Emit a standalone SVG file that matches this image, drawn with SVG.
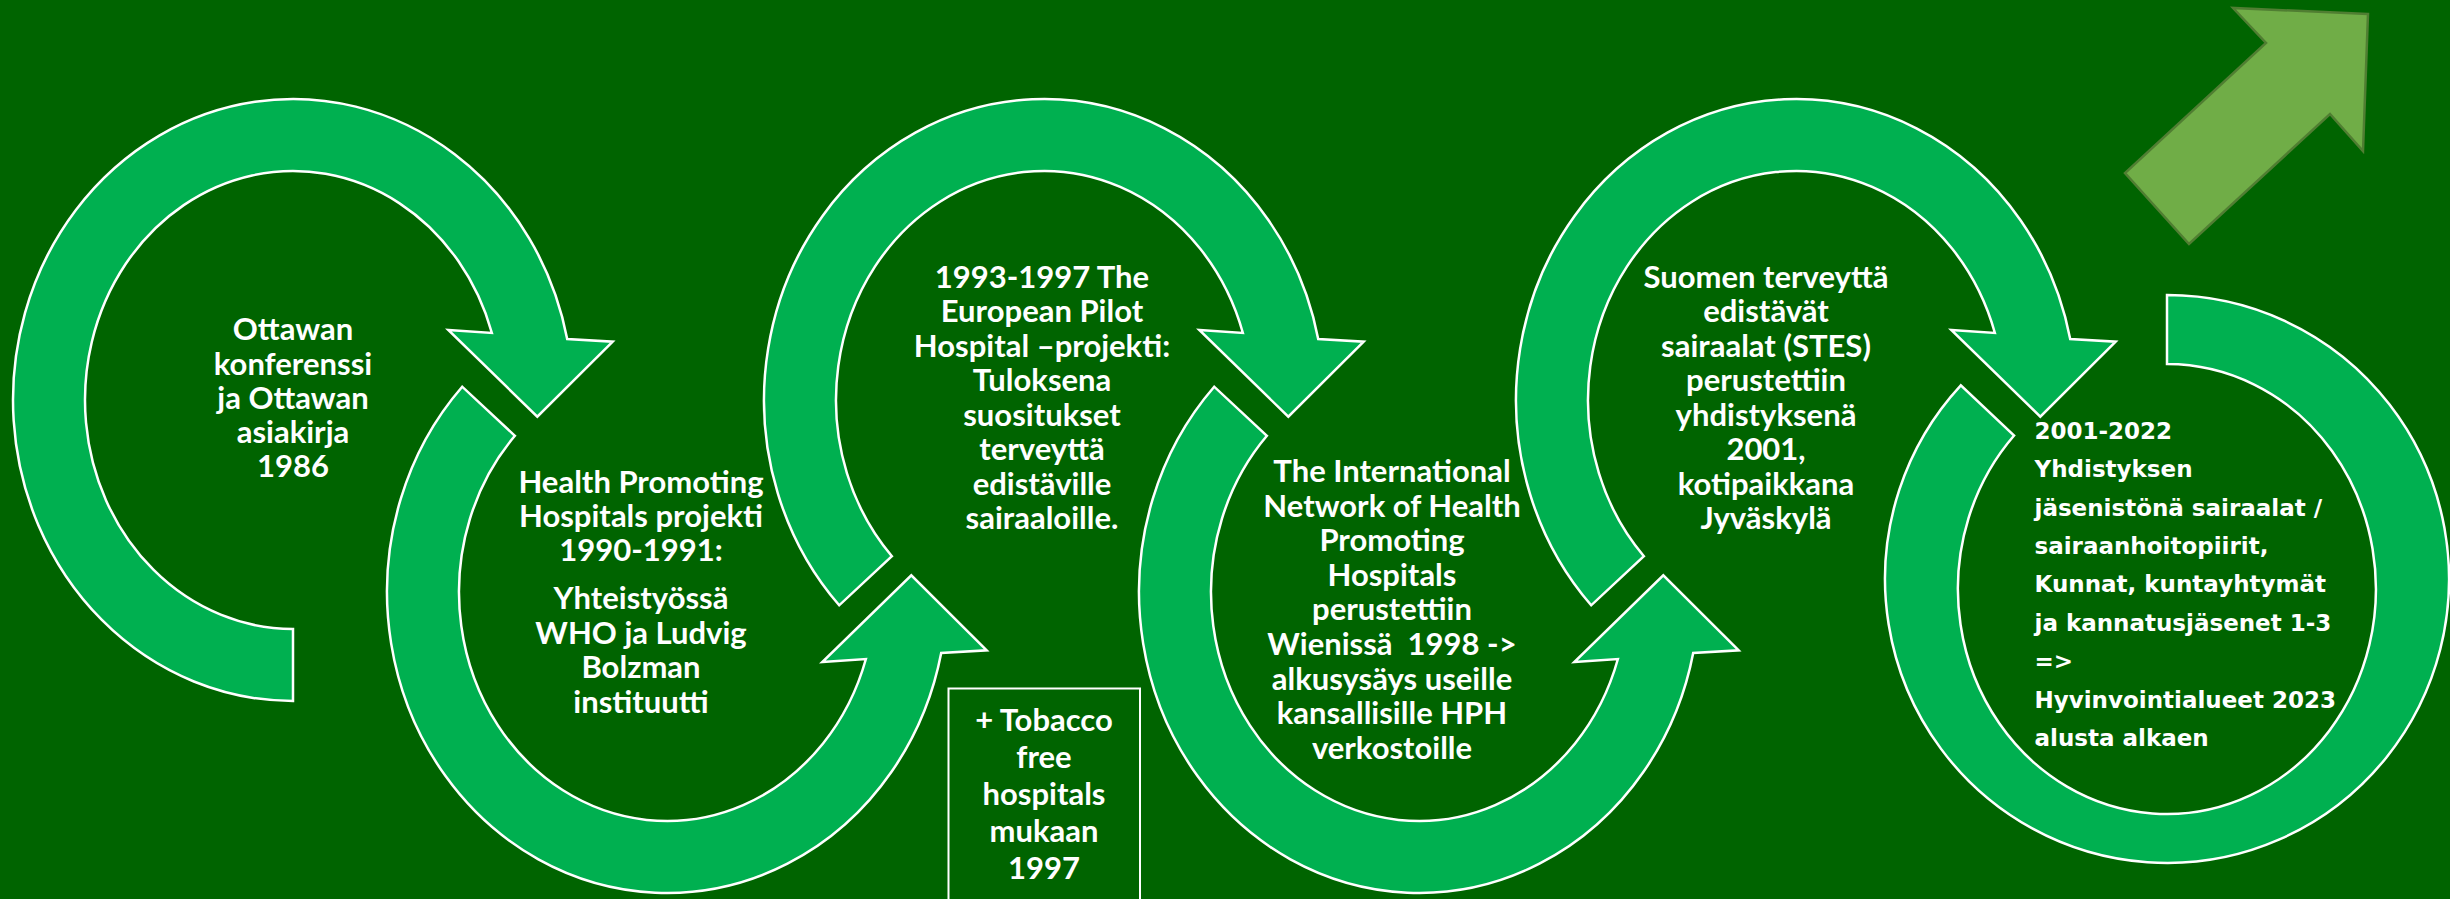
<svg xmlns="http://www.w3.org/2000/svg" width="2450" height="899" viewBox="0 0 2450 899">
<style>
.arc{fill:#00B050;stroke:#FFFFFF;stroke-width:2.5;stroke-linejoin:miter}
.t{font-family:"Lato","Liberation Sans",sans-serif;font-weight:700;font-size:31px;fill:#FFFFFF;text-anchor:middle}
.t6{font-family:"DejaVu Sans","Liberation Sans",sans-serif;font-weight:700;font-size:23px;fill:#FFFFFF;text-anchor:start}
.box{fill:none;stroke:#FFFFFF;stroke-width:2}
.big{fill:#70AD47;stroke:#507E32;stroke-width:2.5}
</style>
<rect x="0" y="0" width="2450" height="899" fill="#006400"/>
<g id="connectors">
<polygon id="bigArrow" class="big" points="2368,14 2233,8 2266,43 2125,173 2189,244 2330,114 2363,151"/>
</g>
<g id="node1">
<path class="arc" d="M 293 701 A 280 301 0 1 1 567.2 339 L 612.7 341.7 L 537.3 416.7 L 448.3 330 L 491.9 333 A 208 229 0 1 0 293 629 Z"/>
<text class="t"><tspan x="293" y="340">Ottawan</tspan><tspan x="293" y="374.5">konferenssi</tspan><tspan x="293" y="409">ja Ottawan</tspan><tspan x="293" y="443">asiakirja</tspan><tspan x="293" y="477">1986</tspan></text>
</g>
<g id="node2">
<path class="arc" d="M 462.2 386.7 A 280 301 0 1 0 941.2 653 L 986.7 650.3 L 911.3 575.3 L 822.3 662 L 865.9 659 A 208 229 0 1 1 514.9 435.8 Z"/>
<text class="t"><tspan x="641" y="492.5">Health Promoting</tspan><tspan x="641" y="527">Hospitals projekti</tspan><tspan x="641" y="561">1990-1991:</tspan><tspan x="641" y="609">Yhteistyössä</tspan><tspan x="641" y="643.5">WHO ja Ludvig</tspan><tspan x="641" y="678">Bolzman</tspan><tspan x="641" y="712.5">instituutti</tspan></text>
</g>
<g id="node3">
<path class="arc" d="M 839.2 605.3 A 280 301 0 1 1 1318.2 339 L 1363.7 341.7 L 1288.3 416.7 L 1199.3 330 L 1242.9 333 A 208 229 0 1 0 891.9 556.2 Z"/>
<text class="t"><tspan x="1042" y="287.5">1993-1997 The</tspan><tspan x="1042" y="322">European Pilot</tspan><tspan x="1042" y="356.5">Hospital –projekti:</tspan><tspan x="1042" y="391">Tuloksena</tspan><tspan x="1042" y="425.5">suositukset</tspan><tspan x="1042" y="460">terveyttä</tspan><tspan x="1042" y="494.5">edistäville</tspan><tspan x="1042" y="529">sairaaloille.</tspan></text>
</g>
<g id="node3b">
<rect class="box" x="948.5" y="688.5" width="191.5" height="215"/>
<text class="t"><tspan x="1044" y="731">+ Tobacco</tspan><tspan x="1044" y="768">free</tspan><tspan x="1044" y="805">hospitals</tspan><tspan x="1044" y="842">mukaan</tspan><tspan x="1044" y="879">1997</tspan></text>
</g>
<g id="node4">
<path class="arc" d="M 1214.2 386.7 A 280 301 0 1 0 1693.2 653 L 1738.7 650.3 L 1663.3 575.3 L 1574.3 662 L 1617.9 659 A 208 229 0 1 1 1266.9 435.8 Z"/>
<text class="t" style="white-space:pre"><tspan x="1392" y="482">The International</tspan><tspan x="1392" y="516.5">Network of Health</tspan><tspan x="1392" y="551">Promoting</tspan><tspan x="1392" y="585.5">Hospitals</tspan><tspan x="1392" y="620">perustettiin</tspan><tspan x="1392" y="655">Wienissä  1998 -&gt;</tspan><tspan x="1392" y="689.5">alkusysäys useille</tspan><tspan x="1392" y="724">kansallisille HPH</tspan><tspan x="1392" y="758.5">verkostoille</tspan></text>
</g>
<g id="node5">
<path class="arc" d="M 1591.2 605.3 A 280 301 0 1 1 2070.2 339 L 2115.7 341.7 L 2040.3 416.7 L 1951.3 330 L 1994.9 333 A 208 229 0 1 0 1643.9 556.2 Z"/>
<text class="t"><tspan x="1766" y="287.5">Suomen terveyttä</tspan><tspan x="1766" y="322">edistävät</tspan><tspan x="1766" y="356.5">sairaalat (STES)</tspan><tspan x="1766" y="391">perustettiin</tspan><tspan x="1766" y="425.5">yhdistyksenä</tspan><tspan x="1766" y="460">2001,</tspan><tspan x="1766" y="494.5">kotipaikkana</tspan><tspan x="1766" y="529">Jyväskylä</tspan></text>
</g>
<g id="node6">
<path class="arc" d="M 2167 295 A 282 284 0 1 1 1960.8 385.3 L 2014.1 435.5 A 209 225 0 1 0 2167 364 Z"/>
<text class="t6"><tspan x="2034.5" y="438.5">2001-2022</tspan><tspan x="2034.5" y="477">Yhdistyksen</tspan><tspan x="2034.5" y="515.5">jäsenistönä sairaalat /</tspan><tspan x="2034.5" y="554">sairaanhoitopiirit,</tspan><tspan x="2034.5" y="592">Kunnat, kuntayhtymät</tspan><tspan x="2034.5" y="630.5">ja kannatusjäsenet 1-3</tspan><tspan x="2034.5" y="669">=&gt;</tspan><tspan x="2034.5" y="707.5">Hyvinvointialueet 2023</tspan><tspan x="2034.5" y="746">alusta alkaen</tspan></text>
</g>
</svg>
